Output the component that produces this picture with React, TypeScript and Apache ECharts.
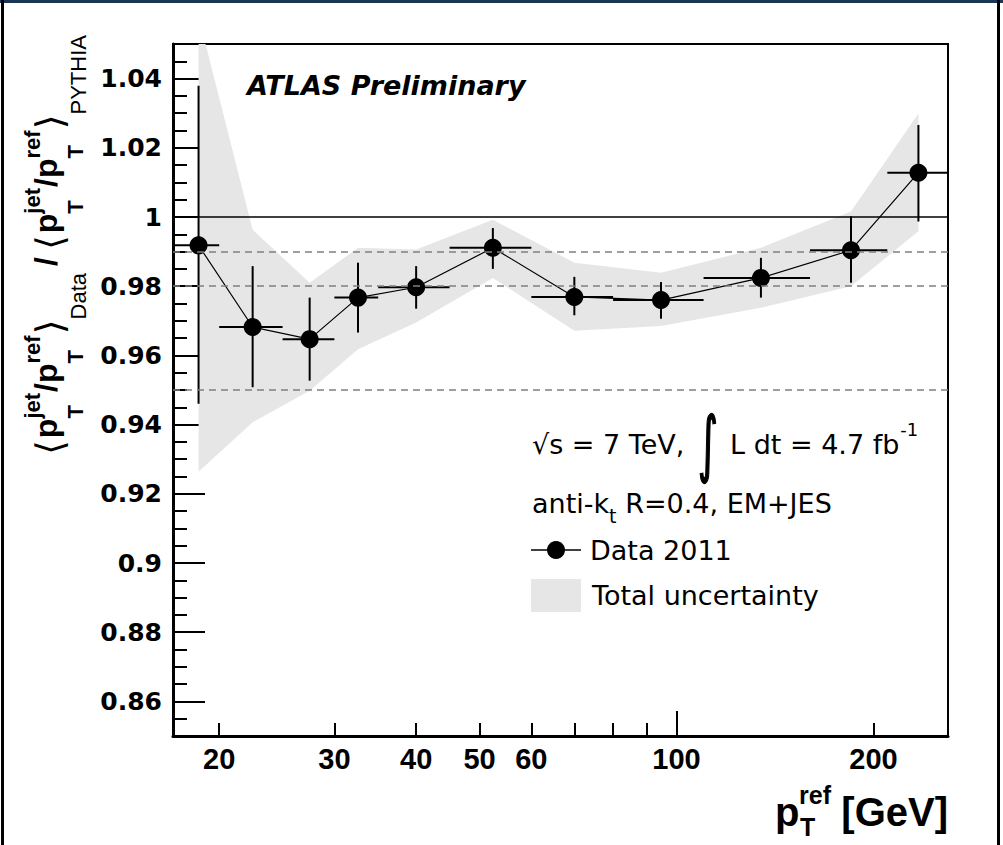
import React, { useEffect, useRef } from "react";
import * as echarts from "echarts";

// ---- data ----
const binEdges = [17, 20, 25, 30, 35, 45, 60, 80, 110, 160, 210, 260];
const ptX = [18.6, 22.5, 27.5, 32.6, 40.0, 52.4, 69.8, 94.7, 134.6, 184.8, 234.3];
const ptY = [0.9918, 0.9682, 0.9647, 0.9767, 0.9797, 0.9911, 0.9769, 0.976, 0.9824, 0.9904, 1.0128];
const errHi = [1.0379, 0.9858, 0.9767, 0.9868, 0.9858, 0.9968, 0.9827, 0.9812, 0.9882, 1.0002, 1.0266];
const errLo = [0.946, 0.9508, 0.9527, 0.9666, 0.9735, 0.985, 0.9716, 0.9706, 0.9767, 0.981, 0.9987];
const bandUp = [1.058, 0.9963, 0.981, 0.9911, 0.9906, 0.9992, 0.9868, 0.9839, 0.9911, 1.0016, 1.0299];
const bandLo = [0.9264, 0.9407, 0.9498, 0.9618, 0.9695, 0.9824, 0.9671, 0.9685, 0.9738, 0.98, 0.9959];

const xTickMinor = [20, 30, 40, 50, 60, 70, 80, 90, 200];
const xTickMajor = [100];
const xLabels = [20, 30, 40, 50, 60, 100, 200];
const yLabels = [0.86, 0.88, 0.9, 0.92, 0.94, 0.96, 0.98, 1, 1.02, 1.04];
const yMinorTicks: number[] = [];
for (let k = 171; k <= 209; k++) yMinorTicks.push(Math.round(k * 5) / 1000);

const refSolid = [1];
const refDashed = [0.99, 0.98, 0.95];

const X_MIN = 17;
const X_MAX = 260;
const Y_MIN = 0.85;
const Y_MAX = 1.05;

// ---- helpers ----
let ctx: CanvasRenderingContext2D | null = null;
function measure(text: string, size: number, weight: string, family: string, style = "normal") {
  if (!ctx) ctx = document.createElement("canvas").getContext("2d");
  if (!ctx) return text.length * size * 0.55;
  ctx.font = `${style} ${weight} ${size}px "${family}"`;
  return ctx.measureText(text).width;
}

function txt(
  text: string,
  x: number,
  y: number,
  size: number,
  weight: string,
  family: string,
  align = "left",
  extra: any = {}
) {
  return {
    type: "text",
    x,
    y,
    silent: true,
    ...extra,
    style: {
      text,
      fill: "#000",
      fontSize: size,
      fontWeight: weight,
      fontFamily: family,
      fontStyle: extra.fontStyle || "normal",
      align,
      verticalAlign: "middle",
      ...(extra.styleExtra || {}),
    },
  };
}

function buildYTitle() {
  const MAIN = 32, SCR = 22, BR = 38;
  const F = "Liberation Sans";
  const Y_MAIN = 46, Y_SUP = 33, Y_SUB = 76, Y_LAB = 79, Y_BR = 50;
  const children: any[] = [];
  let cx = 0;
  const bracket = (t: string) => {
    children.push(txt(t, cx, Y_BR, BR, "normal", "DejaVu Sans"));
    cx += measure(t, BR, "normal", "DejaVu Sans");
  };
  const main = (t: string) => {
    children.push(txt(t, cx, Y_MAIN, MAIN, "bold", F));
    cx += measure(t, MAIN, "bold", F);
  };
  const pStack = (sup: string) => {
    main("p");
    children.push(txt(sup, cx, Y_SUP, SCR, "bold", F));
    children.push(txt("T", cx, Y_SUB, SCR, "bold", F));
    cx += Math.max(measure(sup, SCR, "bold", F), measure("T", SCR, "bold", F)) + 1;
  };
  const label = (t: string) => {
    children.push(txt(t, cx, Y_LAB, SCR, "normal", F));
    cx += measure(t, SCR, "normal", F);
  };
  bracket("⟨");
  cx += 2;
  pStack("jet");
  main("/");
  pStack("ref");
  bracket("⟩");
  label("Data");
  cx += 7;
  main("/");
  cx += 7;
  bracket("⟨");
  cx += 2;
  pStack("jet");
  main("/");
  pStack("ref");
  bracket("⟩");
  label("PYTHIA");
  const s = 420 / cx;
  return {
    type: "group",
    x: 0,
    y: 455,
    rotation: Math.PI / 2,
    scaleX: s,
    silent: true,
    children,
  };
}

function buildAnnotations() {
  const D = "DejaVu Sans";
  const L = "Liberation Sans";
  const FS = 27;
  const els: any[] = [];
  // outer frame
  els.push({ type: "rect", shape: { x: 0, y: 0, width: 1003, height: 3 }, style: { fill: "#1b3554" }, silent: true });
  els.push({ type: "rect", shape: { x: 1, y: 0, width: 3, height: 845 }, style: { fill: "#000" }, silent: true });
  els.push({ type: "rect", shape: { x: 997, y: 0, width: 3, height: 845 }, style: { fill: "#000" }, silent: true });

  els.push(buildYTitle());

  // x axis title
  els.push(txt("p", 775, 812, 40, "bold", L));
  els.push(txt("ref", 799, 795, 25, "bold", L));
  els.push(txt("T", 800, 827, 25, "bold", L));
  els.push(txt("[GeV]", 948, 812, 40, "bold", L, "right"));

  // ATLAS label
  els.push(txt("ATLAS Preliminary", 247, 85, 27, "bold", D, "left", { fontStyle: "italic" }));

  // sqrt(s) line
  els.push(txt("√s = 7 TeV,", 532, 444, FS, "normal", D));
  els.push({
    type: "text",
    x: 708,
    y: 443,
    scaleY: 1.9,
    silent: true,
    style: {
      text: "∫",
      fill: "#000",
      stroke: "#000",
      lineWidth: 1,
      fontSize: 38,
      fontFamily: D,
      align: "center",
      verticalAlign: "middle",
    },
  });
  els.push(txt("L dt = 4.7 fb", 730, 444, FS, "normal", D));
  const wL = measure("L dt = 4.7 fb", FS, "normal", D);
  els.push(txt("-1", 730 + wL + 1, 429, 18, "normal", D));

  // anti-kt line
  const w1 = measure("anti-k", FS, "normal", D);
  els.push(txt("anti-k", 532, 503, FS, "normal", D));
  els.push(txt("t", 532 + w1, 516, 19, "normal", D));
  const w2 = measure("t", 19, "normal", D);
  els.push(txt(" R=0.4, EM+JES", 532 + w1 + w2, 503, FS, "normal", D));

  // legend: Data 2011
  els.push({ type: "line", shape: { x1: 531, y1: 550, x2: 581, y2: 550 }, style: { stroke: "#000", lineWidth: 1.5 }, silent: true });
  els.push({ type: "circle", shape: { cx: 556, cy: 550, r: 9 }, style: { fill: "#000" }, silent: true });
  els.push(txt("Data 2011", 590, 550, FS, "normal", D));
  // legend: Total uncertainty
  els.push({ type: "rect", shape: { x: 531, y: 579, width: 50, height: 33 }, style: { fill: "#e6e6e6" }, silent: true });
  els.push(txt("Total uncertainty", 592, 595, FS, "normal", D));
  return els;
}

export default function App() {
  const ref = useRef<HTMLDivElement>(null);
  useEffect(() => {
    if (!ref.current) return;
    const chart = echarts.init(ref.current, undefined, { renderer: "svg" });

    const axisX = (ticks: number[], len: number, labels: boolean, line: boolean) => ({
      type: "log",
      logBase: 10,
      min: X_MIN,
      max: X_MAX,
      position: "bottom",
      gridIndex: 0,
      axisLine: { show: line, onZero: false, lineStyle: { color: "#000", width: 3 } },
      axisTick: { show: true, inside: true, length: len, customValues: ticks, lineStyle: { color: "#000", width: 2 } },
      axisLabel: labels
        ? {
            show: true,
            customValues: xLabels,
            color: "#000",
            fontFamily: "Liberation Sans",
            fontWeight: "bold",
            fontSize: 29,
            margin: 8,
            formatter: (v: number) => String(Math.round(v)),
          }
        : { show: false },
      splitLine: { show: false },
      minorTick: { show: false },
    });
    const axisY = (ticks: number[], len: number, labels: boolean, line: boolean) => ({
      type: "value",
      min: Y_MIN,
      max: Y_MAX,
      position: "left",
      gridIndex: 0,
      axisLine: { show: line, onZero: false, lineStyle: { color: "#000", width: 3 } },
      axisTick: { show: true, inside: true, length: len, customValues: ticks, lineStyle: { color: "#000", width: 2 } },
      axisLabel: labels
        ? {
            show: true,
            customValues: yLabels,
            color: "#000",
            fontFamily: "DejaVu Sans",
            fontWeight: "bold",
            fontSize: 25,
            margin: 11,
            formatter: (v: number) => String(parseFloat(v.toFixed(3))),
          }
        : { show: false },
      splitLine: { show: false },
    });

    const lineData = ptX.map((x, i) => [x, ptY[i]]);
    const errData = ptX.map((x, i) => [x, ptY[i], binEdges[i], binEdges[i + 1], errLo[i], errHi[i]]);

    const option: any = {
      animation: false,
      backgroundColor: "#fff",
      grid: {
        left: 173,
        top: 44,
        width: 775,
        height: 692,
        show: true,
        borderColor: "#000",
        borderWidth: 2,
        backgroundColor: "transparent",
        containLabel: false,
        outerBoundsMode: "none",
      },
      xAxis: [axisX(xTickMinor, 13, true, true), axisX(xTickMajor, 25, false, false)],
      yAxis: [axisY(yLabels, 32, true, true), axisY(yMinorTicks, 14, false, false)],
      series: [
        {
          type: "custom",
          name: "Total uncertainty",
          xAxisIndex: 0,
          yAxisIndex: 0,
          z: 1,
          silent: true,
          data: [[ptX[0], bandLo[0]]],
          renderItem: (params: any, api: any) => {
            if (params.dataIndex !== 0) return null;
            const pts: number[][] = [];
            for (let i = 0; i < ptX.length; i++) pts.push(api.coord([ptX[i], bandUp[i]]));
            for (let i = ptX.length - 1; i >= 0; i--) pts.push(api.coord([ptX[i], bandLo[i]]));
            const cs = params.coordSys;
            return {
              type: "polygon",
              shape: { points: pts },
              style: { fill: "#e6e6e6" },
              clipPath: { type: "rect", shape: { x: cs.x, y: cs.y, width: cs.width, height: cs.height } },
            };
          },
        },
        {
          type: "line",
          name: "refs",
          xAxisIndex: 0,
          yAxisIndex: 0,
          z: 2,
          data: [],
          markLine: {
            silent: true,
            symbol: ["none", "none"],
            label: { show: false },
            animation: false,
            lineStyle: { color: "#808080", width: 1.5, type: [7, 5] },
            data: [
              ...refSolid.map((v) => ({ yAxis: v, lineStyle: { color: "#000", width: 1.5, type: "solid" } })),
              ...refDashed.map((v) => ({ yAxis: v })),
            ],
          },
        },
        {
          type: "custom",
          name: "errors",
          xAxisIndex: 0,
          yAxisIndex: 0,
          z: 3,
          silent: true,
          data: errData,
          encode: { x: 0, y: 1 },
          renderItem: (params: any, api: any) => {
            const c = api.coord([api.value(0), api.value(1)]);
            const xl = api.coord([api.value(2), api.value(1)]);
            const xh = api.coord([api.value(3), api.value(1)]);
            const yl = api.coord([api.value(0), api.value(4)]);
            const yh = api.coord([api.value(0), api.value(5)]);
            const st = { stroke: "#000", lineWidth: 2 };
            return {
              type: "group",
              children: [
                { type: "line", shape: { x1: xl[0], y1: c[1], x2: xh[0], y2: c[1] }, style: st },
                { type: "line", shape: { x1: c[0], y1: yl[1], x2: c[0], y2: yh[1] }, style: st },
              ],
            };
          },
        },
        {
          type: "line",
          name: "Data 2011",
          xAxisIndex: 0,
          yAxisIndex: 0,
          z: 4,
          data: lineData,
          symbol: "circle",
          symbolSize: 18,
          itemStyle: { color: "#000" },
          lineStyle: { color: "#000", width: 1.2 },
          silent: true,
        },
      ],
      graphic: buildAnnotations(),
    };
    chart.setOption(option);
    return () => chart.dispose();
  }, []);
  return (
    <div
      ref={ref}
      style={{ position: "absolute", left: 0, top: 0, width: 1003, height: 845, background: "#fff" }}
    />
  );
}
